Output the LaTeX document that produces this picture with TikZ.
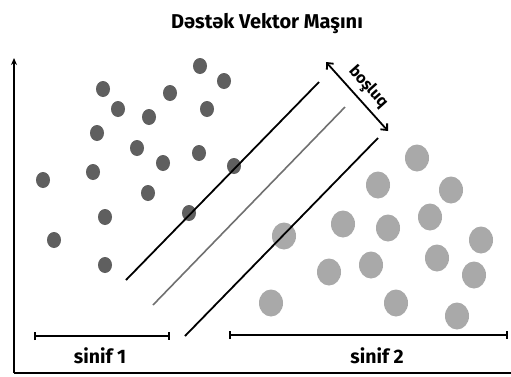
\documentclass[tikz,border=0pt]{standalone}
\usepackage{fontspec}
\setmainfont{Fira Sans}
\usetikzlibrary{arrows.meta,shapes.geometric}
\definecolor{classone}{HTML}{5F5F5F}
\definecolor{classtwo}{HTML}{A9A9A9}
\definecolor{midline}{HTML}{707070}
\tikzset{
  darkdot/.style={ellipse, fill=classone, minimum width=14pt, minimum height=16pt, inner sep=0pt},
  lightdot/.style={ellipse, fill=classtwo, minimum width=24pt, minimum height=27pt, inner sep=0pt},
  axisline/.style={line width=2pt},
  marginline/.style={line width=1.8pt},
  hyperline/.style={line width=1.6pt, draw=midline},
  classbar/.style={line width=2pt, {Bar[width=8pt,line width=2pt]}-{Bar[width=8pt,line width=2pt]}},
  labeltext/.style={font=\bfseries\fontsize{19.5}{22}\selectfont, inner sep=0pt, anchor=base},
}
\begin{document}
\begin{tikzpicture}[x=1pt, y=-1pt]
\useasboundingbox (0,0) rectangle (511,376);
\fill[white] (0,0) rectangle (511,376);

% title
\node[labeltext, font=\bfseries\fontsize{20}{22}\selectfont] (title) at (267,28) {Dəstək Vektor Maşını};

% axes
\coordinate (origin) at (14,373);
\coordinate (ytop) at (14,58);
\coordinate (xend) at (511,373);
\draw[axisline, -{Stealth[length=7pt,width=6pt]}] (origin) -- (ytop);
\draw[axisline] (origin) -- (xend);

% class 1 points
\foreach \n/\x/\y in {a1/200/66, a2/224/81, a3/103/89, a4/170/93, a5/118/109,
  a6/149/117, a7/207/109, a8/97/133, a9/137/148, a10/163/163, a11/199/153,
  a12/43/180, a13/93/172, a14/234/166, a15/148/193, a16/105/217, a17/189/213,
  a18/54/240, a19/105/265}
  \node[darkdot] (\n) at (\x,\y) {};

% class 2 points
\foreach \n/\x/\y in {b1/417/158, b2/378/185, b3/451/190, b4/430/217, b5/343/224,
  b6/388/228, b7/284/236, b8/481/240, b9/329/272, b10/371/265, b11/437/258,
  b12/474/275, b13/271/303, b14/396/303, b15/457/316}
  \node[lightdot] (\n) at (\x,\y) {};

% separating hyperplane and margins
\coordinate (u1) at (126,280); \coordinate (u2) at (319,82);
\coordinate (m1) at (153,305); \coordinate (m2) at (345,107);
\coordinate (l1) at (185,336); \coordinate (l2) at (378,138);
\draw[marginline] (u1) -- (u2);
\draw[hyperline] (m1) -- (m2);
\draw[marginline] (l1) -- (l2);

% margin width
\coordinate (g1) at (326,62); \coordinate (g2) at (388,131);
\draw[line width=1.8pt, {Straight Barb[length=5pt,width=9pt,line width=1.8pt]}-{Straight Barb[length=5pt,width=9pt,line width=1.8pt]}] (g1) -- (g2);
\node[font=\bfseries\fontsize{16}{18}\selectfont, rotate=-48, inner sep=0pt] (gap) at (368,87) {boşluq};

% class ranges
\coordinate (c1a) at (34,336); \coordinate (c1b) at (170,336);
\coordinate (c2a) at (229,335); \coordinate (c2b) at (508,335);
\draw[classbar] (c1a) -- (c1b);
\draw[classbar] (c2a) -- (c2b);
\node[labeltext] (s1) at (100,363) {sinif 1};
\node[labeltext] (s2) at (377,363) {sinif 2};
\end{tikzpicture}
\end{document}
